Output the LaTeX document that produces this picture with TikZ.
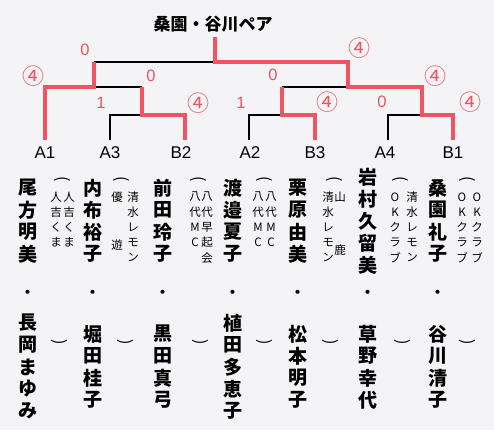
\documentclass[tikz,border=0pt]{standalone}
\usepackage{fontspec}
\setmainfont{Liberation Sans}
\newfontfamily\jp{Noto Sans CJK JP}
\definecolor{wred}{RGB}{240,84,98}
\definecolor{paper}{RGB}{244,244,246}
\tikzset{
  lose/.style={draw=black, line width=1.3pt, line join=miter},
  win/.style={draw=wred, line width=4.6pt, line join=miter},
  leaf/.style={font=\fontsize{17}{17}\selectfont, inner sep=0pt},
  score/.style={text=wred, font=\fontsize{16.5}{16.5}\selectfont, inner sep=0pt},
  cscore/.style={text=wred, font=\jp\fontsize{22}{22}\selectfont, inner sep=0pt},
  nm/.style={font=\jp\bfseries\fontsize{19}{19}\selectfont, inner sep=0pt},
  ndot/.style={font=\jp\fontsize{19}{19}\selectfont, inner sep=0pt},
  sm/.style={font=\jp\fontsize{11.5}{12}\selectfont, inner sep=0pt},
  opar/.style={font=\jp\fontsize{16}{16}\selectfont, inner sep=0pt, rotate=-90},
  ttl/.style={font=\jp\bfseries\fontsize{17}{17}\selectfont, inner sep=0pt}
}
% #1 prefix, #2 x, #3 first y, #4 pitch, #5 style, #6 list
\newcommand\vstack[6]{%
  \foreach \ch [count=\i from 0] in {#6}{\node[#5] (#1-\i) at (#2,{#3+\i*#4}) {\ch};}}
\begin{document}
\begin{tikzpicture}[x=1pt,y=-1pt]
\fill[paper] (0,0) rectangle (494,430);
\useasboundingbox (0,0) rectangle (494,430);

% title
\node[ttl] (title) at (213,24) {桑園・谷川ペア};

% leaf anchors
\coordinate (pA1) at (45,140);
\coordinate (pA3) at (110,140);
\coordinate (pB2) at (185,140);
\coordinate (pA2) at (249,140);
\coordinate (pB3) at (315,140);
\coordinate (pA4) at (388,140);
\coordinate (pB1) at (453,140);
% junctions
\coordinate (j1) at (142,115); \coordinate (m1) at (142,87);
\coordinate (j2) at (94,87);   \coordinate (m2) at (94,62);
\coordinate (j3) at (282,115); \coordinate (m3) at (282,87);
\coordinate (j4) at (422,115); \coordinate (m4) at (422,87);
\coordinate (j5) at (348,87);  \coordinate (m5) at (348,62);
\coordinate (j6) at (215,62);  \coordinate (top) at (215,37);

% losing lines
\draw[lose] (pA3) |- (j1);
\draw[lose] (j2) -- (m1);
\draw[lose] (m2) -- (j6);
\draw[lose] (pA2) |- (j3);
\draw[lose] (m3) -- (j5);
\draw[lose] (pA4) |- (j4);
% winning lines
\draw[win] (pA1) |- (j2) -- (m2);
\draw[win] (pB2) |- (j1) -- (m1);
\draw[win] (pB3) |- (j3) -- (m3);
\draw[win] (pB1) |- (j4) -- (m4) -- (j5) -- (m5) -- (j6) -- (top);

% leaf labels
\node[leaf] (lA1) at (45,153) {A1};
\node[leaf] (lA3) at (110,153) {A3};
\node[leaf] (lB2) at (181,153) {B2};
\node[leaf] (lA2) at (250,153) {A2};
\node[leaf] (lB3) at (315,153) {B3};
\node[leaf] (lA4) at (385,153) {A4};
\node[leaf] (lB1) at (453,153) {B1};

% scores
\node[score] (s1) at (85,50) {0};
\node[cscore] (s2) at (33,76) {④};
\node[score] (s3) at (151,76) {0};
\node[score] (s4) at (101,103) {1};
\node[cscore] (s5) at (198,103) {④};
\node[score] (s6) at (241,103) {1};
\node[score] (s7) at (273,75) {0};
\node[cscore] (s8) at (359,48) {④};
\node[cscore] (s9) at (327,102) {④};
\node[score] (s10) at (382,102) {0};
\node[cscore] (s11) at (435,76) {④};
\node[cscore] (s12) at (470,102) {④};

% names
\vstack{a1a}{28}{188}{22}{nm}{尾,方,明,美}
\vstack{a1b}{28}{323}{22}{nm}{長,岡,ま,ゆ,み}
\vstack{a3a}{93}{188}{22}{nm}{内,布,裕,子}
\vstack{a3b}{93}{334}{22}{nm}{堀,田,桂,子}
\vstack{b2a}{163}{188}{22}{nm}{前,田,玲,子}
\vstack{b2b}{163}{334}{22}{nm}{黒,田,真,弓}
\vstack{a2a}{233}{188}{22}{nm}{渡,邉,夏,子}
\vstack{a2b}{233}{323}{22}{nm}{植,田,多,恵,子}
\vstack{b3a}{298}{188}{22}{nm}{栗,原,由,美}
\vstack{b3b}{298}{334}{22}{nm}{松,本,明,子}
\vstack{a4a}{368}{177}{22}{nm}{岩,村,久,留,美}
\vstack{a4b}{368}{334}{22}{nm}{草,野,幸,代}
\vstack{b1a}{438}{188}{22}{nm}{桑,園,礼,子}
\vstack{b1b}{438}{334}{22}{nm}{谷,川,清,子}
\foreach \x [count=\k] in {28,93,163,233,298,368,438}
  \node[ndot] (dot\k) at (\x,295) {・};

% affiliations
\vstack{fa1l}{56}{197}{15.2}{sm}{人,吉,く,ま}
\vstack{fa1r}{69}{197}{15.2}{sm}{人,吉,く,ま}
\node[sm] (fa3l0) at (117,197) {優};
\node[sm] (fa3l1) at (117,245) {遊};
\vstack{fa3r}{133}{197}{15.2}{sm}{清,水,レ,モ,ン}
\vstack{fb2l}{195}{197}{15.2}{sm}{八,代,M,C}
\vstack{fb2r}{207}{197}{15.2}{sm}{八,代,早,起,会}
\vstack{fa2l}{258}{197}{15.2}{sm}{八,代,M,C}
\vstack{fa2r}{271}{197}{15.2}{sm}{八,代,M,C}
\vstack{fb3l}{328}{197}{15.2}{sm}{清,水,レ,モ,ン}
\node[sm] (fb3r0) at (340,197) {山};
\node[sm] (fb3r1) at (340,250) {鹿};
\vstack{fa4l}{395}{197}{15.2}{sm}{O,K,ク,ラ,ブ}
\vstack{fa4r}{412}{197}{15.2}{sm}{清,水,レ,モ,ン}
\vstack{fb1l}{462}{197}{15.2}{sm}{O,K,ク,ラ,ブ}
\vstack{fb1r}{477}{197}{15.2}{sm}{O,K,ク,ラ,ブ}

% parentheses
\foreach \x [count=\k] in {62,121,198,264,334,400,467}
  \node[opar] (op\k) at (\x,179) {(};
\foreach \x [count=\k] in {59,125,200,264,330,402,467}
  \node[opar] (cp\k) at (\x,342) {)};
\end{tikzpicture}
\end{document}
